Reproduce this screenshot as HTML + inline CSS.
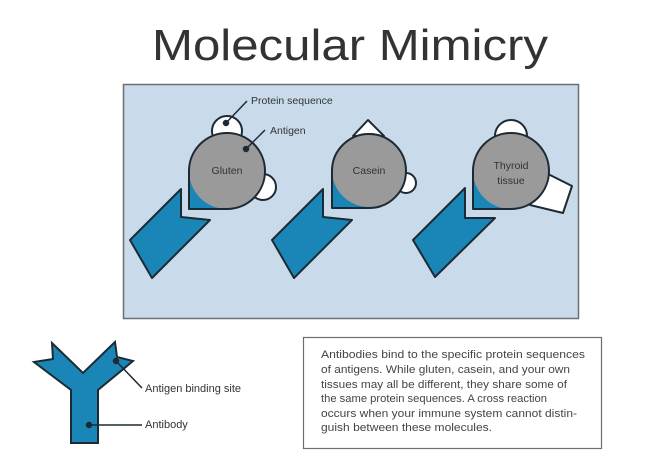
<!DOCTYPE html>
<html><head><meta charset="utf-8"><style>
html,body{margin:0;padding:0;background:#fff;}
svg{display:block;font-family:"Liberation Sans",sans-serif;}
</style></head><body>
<svg width="647" height="468" viewBox="0 0 647 468" xmlns="http://www.w3.org/2000/svg">
<text x="152" y="60" font-size="44" fill="#333" textLength="396" lengthAdjust="spacingAndGlyphs">Molecular Mimicry</text>
<rect x="123.5" y="84.5" width="455" height="234" fill="#c9dbea" stroke="#6b6f73" stroke-width="1.5"/>

<g stroke="#1d2a33" stroke-width="2" stroke-linejoin="round">
<!-- Gluten -->
<circle cx="227" cy="131" r="15" fill="#fff"/>
<circle cx="263" cy="187" r="13" fill="#fff"/>
<rect x="189" y="171" width="38" height="38" fill="#1a86b8" stroke="none"/>
<circle cx="227" cy="171" r="38" fill="#9a9a9b" stroke="none"/>
<path d="M189 171 L189 209 L227 209 A38 38 0 1 0 189 171 Z" fill="none"/>
<polygon points="130,240 181,189 181,217 210,220 152,278" fill="#1a86b8"/>

<!-- Casein -->
<polygon points="353,136 368,120 384,136" fill="#fff"/>
<circle cx="406" cy="183" r="10" fill="#fff"/>
<rect x="332" y="170" width="37" height="38" fill="#1a86b8" stroke="none"/>
<circle cx="369" cy="170" r="37" fill="#9a9a9b" stroke="none"/>
<path d="M332 170 L332 208 L369 208 A37 37 0 1 0 332 170 Z" fill="none"/>
<polygon points="272,240 323,189 323,217 352,220 294,278" fill="#1a86b8"/>

<!-- Thyroid -->
<circle cx="511" cy="136" r="16" fill="#fff"/>
<polygon points="540,170 572,186 563,213 530,205" fill="#fff"/>
<rect x="473" y="171" width="38" height="38" fill="#1a86b8" stroke="none"/>
<circle cx="511" cy="171" r="38" fill="#9a9a9b" stroke="none"/>
<path d="M473 171 L473 209 L511 209 A38 38 0 1 0 473 171 Z" fill="none"/>
<polygon points="413,240 465,188 465,218 495,218 435,277" fill="#1a86b8"/>
</g>

<g font-size="10.5" fill="#333" text-anchor="middle">
<text x="227" y="174">Gluten</text>
<text x="369" y="174">Casein</text>
<text x="511" y="169">Thyroid</text>
<text x="511" y="184">tissue</text>
</g>

<g stroke="#1d2a33" stroke-width="1.5" fill="#1d2a33">
<line x1="226" y1="123" x2="247" y2="101"/><circle cx="226" cy="123" r="2.5"/>
<line x1="246" y1="149" x2="265" y2="130"/><circle cx="246" cy="149" r="2.5"/>
</g>
<text x="251" y="104" font-size="10.5" fill="#333">Protein sequence</text>
<text x="270" y="134" font-size="10.5" fill="#333">Antigen</text>

<!-- Y antibody -->
<polygon points="34,362 53,359 52,343 83,373 115,342 117,357 133,361 98,390 98,443 71,443 71,390" fill="#1a86b8" stroke="#1d2a33" stroke-width="2" stroke-linejoin="miter"/>
<g stroke="#1d2a33" stroke-width="1.5" fill="#1d2a33">
<line x1="116" y1="361" x2="142" y2="388"/><circle cx="116" cy="361" r="2.5"/>
<line x1="89" y1="425" x2="142" y2="425"/><circle cx="89" cy="425" r="2.5"/>
</g>
<text x="145" y="392" font-size="11" fill="#333">Antigen binding site</text>
<text x="145" y="428" font-size="11" fill="#333">Antibody</text>

<rect x="303.5" y="337.5" width="298" height="111" fill="#fff" stroke="#6b6f73" stroke-width="1.2"/>
<g font-size="10.6" fill="#444">
<text x="321" y="358" textLength="264" lengthAdjust="spacingAndGlyphs">Antibodies bind to the specific protein sequences</text>
<text x="321" y="373" textLength="249" lengthAdjust="spacingAndGlyphs">of antigens. While gluten, casein, and your own</text>
<text x="321" y="388" textLength="246" lengthAdjust="spacingAndGlyphs">tissues may all be different, they share some of</text>
<text x="321" y="402" textLength="226" lengthAdjust="spacingAndGlyphs">the same protein sequences. A cross reaction</text>
<text x="321" y="417" textLength="256" lengthAdjust="spacingAndGlyphs">occurs when your immune system cannot distin-</text>
<text x="321" y="431" textLength="171" lengthAdjust="spacingAndGlyphs">guish between these molecules.</text>
</g>
</svg>
</body></html>
